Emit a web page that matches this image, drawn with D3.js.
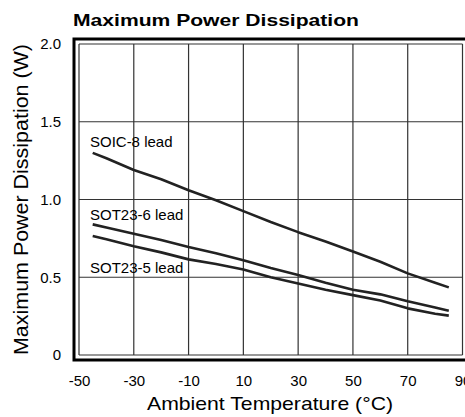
<!DOCTYPE html>
<html>
<head>
<meta charset="utf-8">
<script src="https://cdn.jsdelivr.net/npm/d3@7"></script>
<style>
  body { margin: 0; background: #fff; }
  svg { display: block; font-family: "Liberation Sans", Arial, Helvetica, sans-serif; }
</style>
</head>
<body>
<div id="wrapper"></div>
<script>
// values
const temps = [-45, -40, -30, -20, -10, 0, 10, 20, 30, 40, 50, 60, 70, 80, 85];
const soic8 = [1.30, 1.265, 1.19, 1.13, 1.06, 0.995, 0.925, 0.855, 0.79, 0.73, 0.665, 0.60, 0.525, 0.465, 0.435];
const sot236 = [0.84, 0.82, 0.78, 0.74, 0.695, 0.655, 0.61, 0.56, 0.515, 0.465, 0.42, 0.39, 0.345, 0.305, 0.285];
const sot235 = [0.765, 0.745, 0.70, 0.66, 0.615, 0.585, 0.55, 0.50, 0.46, 0.42, 0.385, 0.35, 0.30, 0.265, 0.253];
const seriesNames = ["SOIC-8 lead", "SOT23-6 lead", "SOT23-5 lead"];
const xTicks = [-50, -30, -10, 10, 30, 50, 70, 90];
const yTicks = [0, 0.5, 1.0, 1.5, 2.0];

function drawChart() {
  let dimensions = {
    width: 465,
    height: 417,
    margin: { top: 44, right: 2.5, bottom: 62, left: 79 },
  };
  dimensions.boundedWidth =
    dimensions.width - dimensions.margin.left - dimensions.margin.right;
  dimensions.boundedHeight =
    dimensions.height - dimensions.margin.top - dimensions.margin.bottom;

  const wrapper = d3
    .select("#wrapper")
    .append("svg")
    .attr("width", dimensions.width)
    .attr("height", dimensions.height);

  const bounds = wrapper
    .append("g")
    .attr("transform", `translate(${dimensions.margin.left},${dimensions.margin.top})`);

  const xScale = d3.scaleLinear().domain([-50, 90]).range([0, dimensions.boundedWidth]);
  const yScale = d3.scaleLinear().domain([0, 2]).range([dimensions.boundedHeight, 0]);

  // grid
  bounds
    .append("g")
    .selectAll("line.vgrid")
    .data(xTicks)
    .join("line")
    .attr("x1", (d) => xScale(d))
    .attr("x2", (d) => xScale(d))
    .attr("y1", 0)
    .attr("y2", dimensions.boundedHeight)
    .attr("stroke", "#333")
    .attr("stroke-width", 1.2);

  bounds
    .append("g")
    .selectAll("line.hgrid")
    .data(yTicks)
    .join("line")
    .attr("x1", 0)
    .attr("x2", dimensions.boundedWidth)
    .attr("y1", (d) => yScale(d))
    .attr("y2", (d) => yScale(d))
    .attr("stroke", "#333")
    .attr("stroke-width", 1.2);

  // heavy outer frame (offset 5px, runs off the right edge)
  const off = 5;
  bounds
    .append("path")
    .attr(
      "d",
      `M${dimensions.boundedWidth + 20},${-off}H${-off}V${dimensions.boundedHeight + off}H${dimensions.boundedWidth + 20}`
    )
    .attr("fill", "none")
    .attr("stroke", "#000")
    .attr("stroke-width", 3);

  // axes
  const yAxis = bounds
    .append("g")
    .call(
      d3.axisLeft(yScale)
        .tickValues(yTicks)
        .tickSize(0)
        .tickPadding(18)
        .tickFormat((d) => (d === 0 ? "0" : d3.format(".1f")(d)))
    );
  yAxis.select(".domain").remove();
  yAxis.selectAll("text").attr("font-size", 15).attr("fill", "#000").attr("font-family", null);

  const xAxis = bounds
    .append("g")
    .attr("transform", `translate(0,${dimensions.boundedHeight})`)
    .call(
      d3.axisBottom(xScale)
        .tickValues(xTicks)
        .tickSize(0)
        .tickPadding(0)
        .tickFormat((d) => String(d))
    );
  xAxis.select(".domain").remove();
  xAxis
    .selectAll("text")
    .attr("font-size", 15)
    .attr("fill", "#000")
    .attr("font-family", null)
    .attr("dy", null)
    .attr("y", 31);

  // lines
  const allSeries = [soic8, sot236, sot235];
  const lineGenerator = d3
    .line()
    .x((d, i) => xScale(temps[i]))
    .y((d) => yScale(d));

  bounds
    .append("g")
    .selectAll("path")
    .data(allSeries)
    .join("path")
    .attr("d", (d) => lineGenerator(d))
    .attr("fill", "none")
    .attr("stroke", "#222")
    .attr("stroke-width", 2.6)
    .attr("stroke-linejoin", "round");

  // series labels
  const labelY = [1.34, 0.865, 0.53];
  bounds
    .append("g")
    .selectAll("text")
    .data(seriesNames)
    .join("text")
    .attr("x", xScale(-46))
    .attr("y", (d, i) => yScale(labelY[i]))
    .attr("font-size", 15)
    .text((d) => d);

  // title
  wrapper
    .append("text")
    .attr("x", 73)
    .attr("y", 26)
    .attr("font-size", 17)
    .attr("font-weight", "bold")
    .attr("textLength", 286)
    .attr("lengthAdjust", "spacingAndGlyphs")
    .text("Maximum Power Dissipation");

  // axis labels
  wrapper
    .append("text")
    .attr("transform", `translate(28,${dimensions.margin.top + dimensions.boundedHeight / 2}) rotate(-90)`)
    .attr("text-anchor", "middle")
    .attr("font-size", 20)
    .attr("textLength", 311)
    .attr("lengthAdjust", "spacingAndGlyphs")
    .text("Maximum Power Dissipation (W)");

  wrapper
    .append("text")
    .attr("x", 270)
    .attr("y", 410)
    .attr("text-anchor", "middle")
    .attr("font-size", 19)
    .attr("textLength", 246)
    .attr("lengthAdjust", "spacingAndGlyphs")
    .text("Ambient Temperature (°C)");
}

drawChart();
</script>
</body>
</html>
